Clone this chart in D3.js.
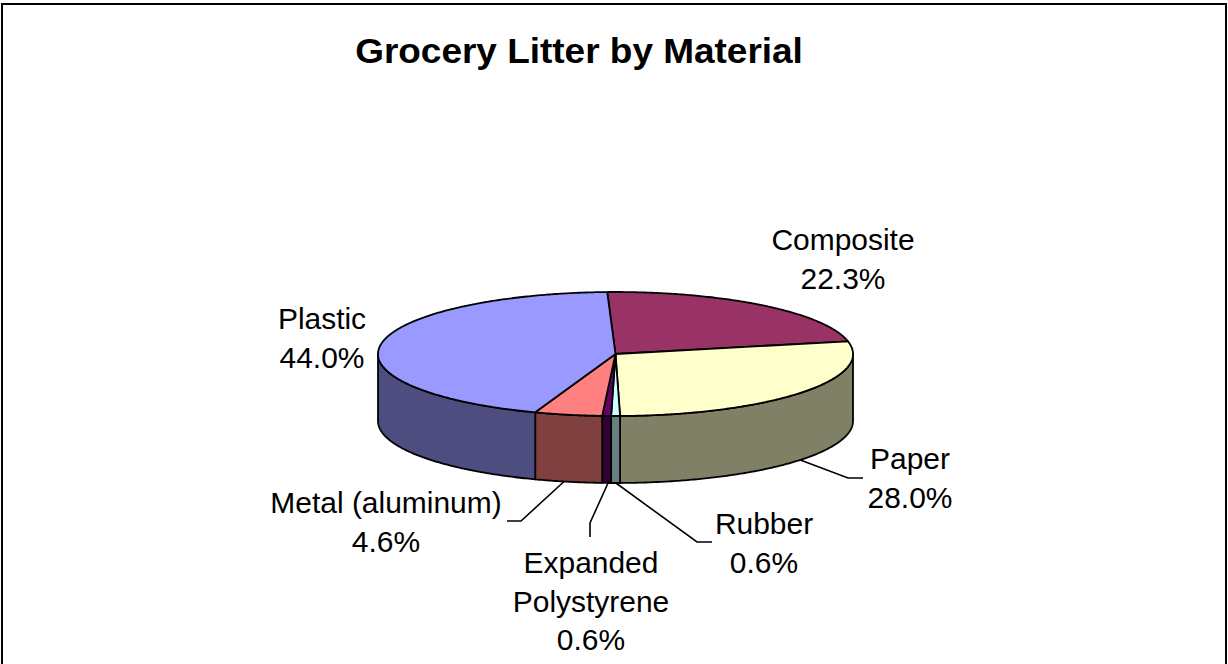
<!DOCTYPE html>
<html>
<head>
<meta charset="utf-8">
<script src="https://cdnjs.cloudflare.com/ajax/libs/d3/7.8.5/d3.min.js"></script>
<style>
  html, body { margin: 0; padding: 0; background: #fff; overflow: hidden; }
  text { font-family: "Liberation Sans", Arial, sans-serif; fill: #000; }
</style>
</head>
<body>
<div id="chart"></div>
<script>
// chart values, clockwise from the top of the pie
var materials = ["Composite", "Paper", "Rubber", "Expanded Polystyrene", "Metal (aluminum)", "Plastic"];
var shares = [22.3, 28.0, 0.6, 0.6, 4.6, 44.0];
var topColors = ["#993366", "#FFFFCC", "#CCFFFF", "#660066", "#FF8080", "#9999FF"];
var sideColors = ["#4D1A33", "#808066", "#668080", "#330033", "#804040", "#4D4D80"];

var svgWidth = 1228;
var svgHeight = 664;

// tilted pie: ellipse centre, radii and wall height
var cx = 615.5, cy = 354, rx = 237.5, ry = 62, depth = 67;
var startAngle = -2 * Math.PI / 180;

// label text lines, centre x and first baseline, same order as materials
var labelLines = [["Composite"], ["Paper"], ["Rubber"], ["Expanded", "Polystyrene"], ["Metal (aluminum)"], ["Plastic"]];
var labelX = [843, 910, 764, 591, 386, 322];
var labelY = [250, 469, 534, 573, 513, 329];
var lineStep = 38.7;

// where each leader line leaves the pie rim (radians) and its elbow and end
var leaderRim = { "Paper": 2.25, "Rubber": 3.14, "Expanded Polystyrene": 3.173, "Metal (aluminum)": 3.36 };
var leaderEnds = {
  "Paper": [[848, 478], [863, 478]],
  "Rubber": [[697, 542], [712, 542]],
  "Expanded Polystyrene": [[590, 523], [590, 537]],
  "Metal (aluminum)": [[521, 521], [507, 521]]
};

var svg = d3.select("#chart")
  .append("svg")
  .attr("width", svgWidth)
  .attr("height", svgHeight)
  .style("display", "block");

// chart frame, the bottom edge runs off the page
svg.append("rect")
  .attr("x", 2)
  .attr("y", 4)
  .attr("width", 1224)
  .attr("height", 720)
  .attr("fill", "#fff")
  .attr("stroke", "#000")
  .attr("stroke-width", 2);

// the reference text is a little wider than the font, so stretch it sideways
svg.append("text")
  .attr("transform", "translate(579, 63) scale(1.027, 1)")
  .attr("text-anchor", "middle")
  .attr("font-size", 36)
  .attr("font-weight", "bold")
  .text("Grocery Litter by Material");

var pie = d3.pie()
  .sort(null)
  .startAngle(startAngle)
  .endAngle(startAngle + 2 * Math.PI);

var arcs = pie(shares);

var xScale = d3.scaleLinear().domain([-1, 1]).range([cx - rx, cx + rx]);
var yScale = d3.scaleLinear().domain([-1, 1]).range([cy + ry, cy - ry]);

function rim(angle, drop) {
  return [xScale(Math.sin(angle)), yScale(Math.cos(angle)) + (drop || 0)];
}

function rimPoints(a0, a1, drop) {
  var n = Math.max(2, Math.ceil((a1 - a0) / 0.01));
  return d3.range(n + 1).map(function(i) {
    return rim(a0 + (a1 - a0) * i / n, drop);
  });
}

var line = d3.line();
var quarter = Math.PI / 2;

// walls first, only the front half of the pie shows one
arcs.forEach(function(d, i) {
  var a0 = Math.max(d.startAngle, quarter);
  var a1 = Math.min(d.endAngle, 3 * quarter);
  if (a1 <= a0) return;
  var pts = rimPoints(a0, a1, 0).concat(rimPoints(a0, a1, depth).reverse());
  svg.append("path")
    .attr("class", "wall")
    .attr("d", line(pts) + "Z")
    .attr("fill", sideColors[i])
    .attr("stroke", "#000")
    .attr("stroke-width", 1.8)
    .attr("stroke-linejoin", "round");
});

// top faces
arcs.forEach(function(d, i) {
  var pts = [[cx, cy]].concat(rimPoints(d.startAngle, d.endAngle, 0));
  svg.append("path")
    .attr("class", "slice")
    .attr("d", line(pts) + "Z")
    .attr("fill", topColors[i])
    .attr("stroke", "#000")
    .attr("stroke-width", 1.8)
    .attr("stroke-linejoin", "round");
});

// leader lines
materials.forEach(function(name) {
  if (!leaderEnds[name]) return;
  var pts = [rim(leaderRim[name], depth)].concat(leaderEnds[name]);
  svg.append("path")
    .attr("class", "leader")
    .attr("d", line(pts))
    .attr("fill", "none")
    .attr("stroke", "#000")
    .attr("stroke-width", 1.6);
});

// labels
materials.forEach(function(name, i) {
  var lines = labelLines[i].concat([shares[i].toFixed(1) + "%"]);
  svg.append("text")
    .attr("class", "label")
    .attr("transform", "translate(" + labelX[i] + ", 0) scale(1.015, 1)")
    .attr("text-anchor", "middle")
    .attr("font-size", 29.5)
    .selectAll("tspan")
    .data(lines)
    .enter()
    .append("tspan")
    .attr("x", 0)
    .attr("y", function(d, j) { return labelY[i] + j * lineStep; })
    .text(function(d) { return d; });
});
</script>
</body>
</html>
